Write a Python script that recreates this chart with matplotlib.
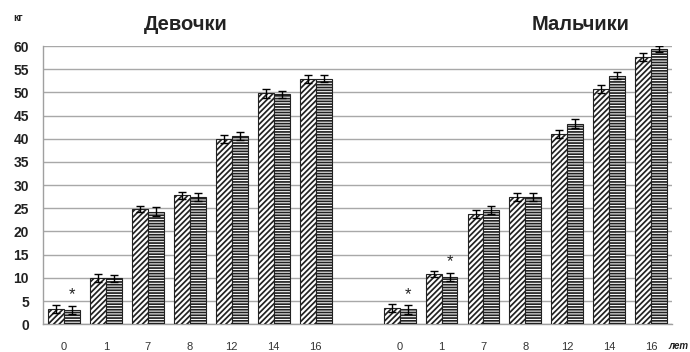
import numpy as np
import matplotlib.pyplot as plt

plt.rcParams['font.family'] = ['Liberation Sans', 'DejaVu Sans']
plt.rcParams['hatch.linewidth'] = 1.25

# age groups (years)
ages = ['0', '1', '7', '8', '12', '14', '16']

# body mass, kg: two series per sex
girls_a = [3.3, 10.0, 24.9, 27.8, 39.9, 49.8, 52.9]
girls_b = [3.1, 9.9, 24.3, 27.5, 40.6, 49.6, 53.0]
boys_a = [3.5, 10.8, 23.8, 27.4, 41.1, 50.7, 57.7]
boys_b = [3.2, 10.2, 24.6, 27.4, 43.3, 53.6, 59.4]

girls_a_err = [0.9, 0.8, 0.7, 0.8, 0.9, 0.9, 0.9]
girls_b_err = [0.9, 0.8, 0.9, 0.9, 0.8, 0.8, 0.8]
boys_a_err = [0.9, 0.7, 0.8, 0.9, 0.9, 0.9, 0.9]
boys_b_err = [0.9, 0.9, 0.9, 0.8, 0.9, 0.8, 0.6]

# bars marked as significant (second series)
girls_star = [True, False, False, False, False, False, False]
boys_star = [True, True, False, False, False, False, False]

fig = plt.figure(figsize=(6.9, 3.52), dpi=100)
ax = fig.add_axes([0.0623, 0.079, 0.912, 0.79])

n = len(ages)
x_girls = np.arange(n)
x_boys = np.arange(n) + n + 1
w = 0.38

err_kw = dict(ecolor='black', elinewidth=1.0, capsize=3, capthick=1.0)

for xs, a, b, ea, eb, stars in [
        (x_girls, girls_a, girls_b, girls_a_err, girls_b_err, girls_star),
        (x_boys, boys_a, boys_b, boys_a_err, boys_b_err, boys_star)]:
    ax.bar(xs - w / 2, a, w, yerr=ea, color='white', edgecolor='#222222',
           hatch='//////', linewidth=0.8, error_kw=err_kw, zorder=3)
    ax.bar(xs + w / 2, b, w, yerr=eb, color='white', edgecolor='#222222',
           hatch='------', linewidth=0.8, error_kw=err_kw, zorder=3)
    for xi, v, e, s in zip(xs, b, eb, stars):
        if s:
            ax.text(xi + w / 2, v + e + 0.7, '*', ha='center', va='bottom',
                    fontsize=12, color='#222222')

ax.set_xlim(-0.5, 2 * n + 0.5)
ax.set_ylim(0, 60)
ax.set_yticks(np.arange(0, 61, 5))
ax.set_xticks(np.concatenate([x_girls, x_boys]))
ax.set_xticklabels(ages + ages)

ax.yaxis.grid(True, color='#a8a8a8', linewidth=1.0, zorder=0)
ax.set_axisbelow(True)
for side in ['top', 'right']:
    ax.spines[side].set_visible(False)
for side in ['left', 'bottom']:
    ax.spines[side].set_color('#a0a0a0')
    ax.spines[side].set_linewidth(1.0)

ax.tick_params(axis='x', length=0, pad=12.5, labelsize=8, labelcolor='#333333')
ax.tick_params(axis='y', length=0, pad=10, labelsize=10, labelcolor='#222222')
for lbl in ax.get_yticklabels():
    lbl.set_fontweight('bold')

fig.text(186 / 690, 1 - 24 / 352, 'Девочки', ha='center', va='center',
         fontsize=14.5, fontweight='bold', color='#222222')
fig.text(581 / 690, 1 - 24 / 352, 'Мальчики', ha='center', va='center',
         fontsize=14.5, fontweight='bold', color='#222222')
fig.text(18 / 690, 1 - 18 / 352, 'кг', ha='center', va='center',
         fontsize=7.5, fontweight='bold', color='#222222')
fig.text(678 / 690, 1 - 346 / 352, 'лет', ha='center', va='center',
         fontsize=7, fontweight='bold', style='italic', color='#222222')

fig.savefig('out.png', dpi=100)
